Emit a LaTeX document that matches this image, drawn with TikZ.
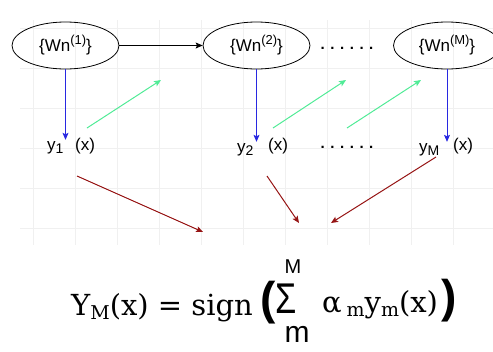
\documentclass[tikz,border=0pt]{standalone}
\usepackage{fontspec}
\usepackage{graphicx}
\setmainfont{Liberation Sans}
\newfontfamily\serifface{DejaVu Serif}
\usetikzlibrary{shapes.geometric,arrows.meta}

\definecolor{stepblue}{RGB}{40,40,225}
\definecolor{passgreen}{RGB}{80,235,150}
\definecolor{sumred}{RGB}{150,20,20}

\newcommand{\upidx}[1]{\raisebox{7pt}{\fontsize{13}{13}\selectfont #1}}
\newcommand{\lowidx}[1]{\raisebox{-3pt}{\fontsize{14}{14}\selectfont #1}}
\newcommand{\fsub}[1]{\raisebox{-4pt}{\fontsize{19}{19}\selectfont #1}}

\begin{document}
\begin{tikzpicture}[x=1pt,y=-1pt,
    learner/.style={ellipse,draw,line width=0.8pt,minimum width=107pt,
        minimum height=47pt,inner sep=0pt,font=\fontsize{17}{19}\selectfont},
    ylab/.style={inner sep=1pt,anchor=base west,font=\fontsize{17}{19}\selectfont},
    xlab/.style={inner sep=1pt,anchor=base west,font=\fontsize{17}{19}\selectfont},
    gap/.style={inner sep=0pt,font=\fontsize{15}{17}\selectfont\bfseries},
    tip/.style={-{Stealth[length=7pt,width=6pt,inset=1.5pt]}},
    serifbig/.style={inner sep=0pt,anchor=base west,
        font=\fontsize{29}{32}\serifface},
    bigparen/.style={inner sep=0pt,anchor=base west,
        font=\fontsize{46}{48}\selectfont\bfseries}]
    \useasboundingbox (0,0) rectangle (493,351);

    % faint paper grid
    \foreach \gx in {33,75,...,495}
        \draw[gray!12,line width=0.6pt] (\gx,20) -- (\gx,245);
    \foreach \gy in {28,68,...,228}
        \draw[gray!12,line width=0.6pt] (20,\gy) -- (493,\gy);

    % weak learners
    \node[learner] (w1) at (65.5,45.5) {\{Wn\upidx{(1)}\}};
    \node[learner] (w2) at (256.5,45.5) {\{Wn\upidx{(2)}\}};
    \node[learner] (w3) at (447,45.5) {\{Wn\upidx{(M)}\}};
    \node[gap] (d1) at (347,48) {. . . . . .};

    % outputs
    \node[ylab] (y1) at (46,150) {y\lowidx{1}};
    \node[xlab] (x1) at (74,150) {(x)};
    \node[ylab] (y2) at (236,152) {y\lowidx{2}};
    \node[xlab] (x2) at (267,150) {(x)};
    \node[gap] (d2) at (347,147) {. . . . . .};
    \node[ylab] (yM) at (418,152) {y\lowidx{M}};
    \node[xlab] (xM) at (452,150) {(x)};

    \draw[tip,line width=0.8pt] (w1) -- (w2);
    \foreach \w/\y in {w1/y1,w2/y2,w3/yM}
        \draw[tip,stepblue,line width=0.8pt]
            (\w.south) -- (\w.south |- \y.north);

    % reweighting passes
    \coordinate (g1s) at (87,128);   \coordinate (g1) at (161,80);
    \coordinate (g2s) at (273,128);  \coordinate (g2) at (346,80);
    \coordinate (g3s) at (347,128);  \coordinate (g3) at (421,80);
    \foreach \i in {1,2,3}
        \draw[tip,passgreen,line width=1pt] (g\i s) -- (g\i);

    % votes into the sum
    \coordinate (r1s) at (77,176);   \coordinate (r1) at (203,232);
    \coordinate (r2s) at (267,176);  \coordinate (r2) at (299,223);
    \coordinate (r3s) at (436,157);  \coordinate (r3) at (331,223);
    \foreach \i in {1,2,3}
        \draw[tip,sumred,line width=1pt] (r\i s) -- (r\i);

    % final classifier
    \node[serifbig] (lhs) at (71,315) {Y\fsub{M}(x) = sign};
    \node[bigparen] (lpar) at (260,314) {(};
    \node[inner sep=0pt,anchor=base,font=\fontsize{43}{44}\selectfont]
        (sum) at (286,313) {\scalebox{0.8}[1]{Σ}};
    \node[inner sep=0pt,anchor=base,font=\fontsize{20}{22}\selectfont]
        (smax) at (293,273) {M};
    \node[inner sep=0pt,anchor=base,font=\fontsize{30}{32}\selectfont]
        (smin) at (297,342) {m};
    \node[serifbig] (rhs) at (322,312)
        {α\,\fsub{m}y\fsub{m}(x)};
    \node[bigparen] (rpar) at ([xshift=3pt]rhs.base east) {)};
\end{tikzpicture}
\end{document}
